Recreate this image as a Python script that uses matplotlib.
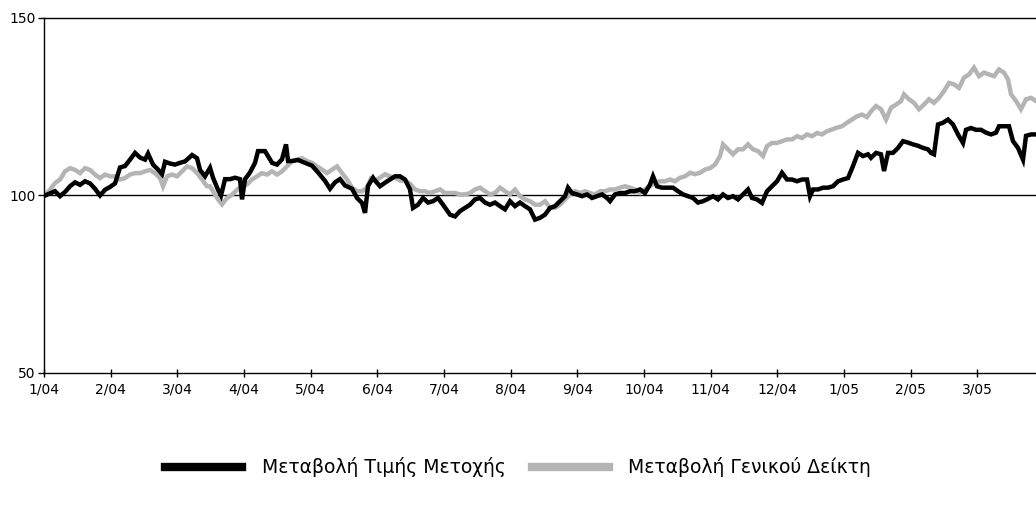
import numpy as np
import matplotlib
matplotlib.use('Agg')
import matplotlib.pyplot as plt

# x positions are months since 1/04 (fractional), values indexed to 100
stock_months = [0.015, 0.165, 0.24, 0.315, 0.39, 0.465, 0.54, 0.615, 0.69, 0.765,
	0.84, 0.915, 0.99, 1.065, 1.14, 1.215, 1.29, 1.365, 1.44, 1.515,
	1.56, 1.635, 1.71, 1.77, 1.815, 1.89, 1.965, 2.04, 2.115, 2.22,
	2.295, 2.34, 2.415, 2.49, 2.535, 2.61, 2.655, 2.715, 2.79, 2.865,
	2.94, 2.97, 3.015, 3.09, 3.165, 3.21, 3.315, 3.42, 3.495, 3.57,
	3.63, 3.66, 3.72, 3.81, 3.915, 4.02, 4.11, 4.215, 4.29, 4.365,
	4.44, 4.515, 4.62, 4.695, 4.77, 4.815, 4.86, 4.935, 4.965, 5.04,
	5.115, 5.19, 5.265, 5.34, 5.415, 5.49, 5.535, 5.61, 5.685, 5.76,
	5.835, 5.91, 5.985, 6.09, 6.165, 6.24, 6.315, 6.39, 6.465, 6.54,
	6.615, 6.69, 6.765, 6.84, 6.915, 6.99, 7.065, 7.14, 7.215, 7.29,
	7.365, 7.44, 7.515, 7.59, 7.665, 7.74, 7.815, 7.86, 7.92, 7.995,
	8.07, 8.145, 8.22, 8.295, 8.37, 8.445, 8.49, 8.565, 8.64, 8.715,
	8.79, 8.865, 8.94, 9.015, 9.09, 9.135, 9.195, 9.27, 9.36, 9.435,
	9.51, 9.585, 9.66, 9.735, 9.81, 9.885, 9.945, 10.035, 10.11, 10.185,
	10.26, 10.335, 10.41, 10.485, 10.56, 10.62, 10.695, 10.77, 10.845, 10.92,
	10.995, 11.07, 11.145, 11.22, 11.295, 11.37, 11.445, 11.49, 11.535, 11.61,
	11.685, 11.76, 11.835, 11.91, 11.985, 12.06, 12.135, 12.21, 12.285, 12.36,
	12.405, 12.48, 12.555, 12.6, 12.66, 12.735, 12.81, 12.885, 12.96, 13.035,
	13.11, 13.185, 13.26, 13.305, 13.35, 13.41, 13.485, 13.56, 13.635, 13.71,
	13.785, 13.83, 13.905, 13.98, 14.055, 14.13, 14.205, 14.28, 14.325, 14.4,
	14.475, 14.535, 14.61, 14.685, 14.73, 14.805, 14.88]
stock_values = [100, 101.2, 99.8, 101, 102.6, 103.7, 103, 104, 103.4, 101.9,
	100, 101.6, 102.4, 103.4, 107.9, 108.3, 110.1, 112, 110.7, 110.1,
	111.8, 108.7, 107.3, 106, 109.5, 109, 108.7, 109.2, 109.6, 111.4,
	110.5, 107.2, 105.4, 107.8, 105, 101.6, 100, 104.6, 104.6, 105,
	104.6, 98.9, 104.6, 106.5, 109.2, 112.5, 112.5, 109.2, 108.7, 110.2,
	114.4, 109.7, 109.7, 110, 109.2, 108.4, 106.5, 104.1, 101.9, 103.7,
	104.6, 102.8, 101.9, 99.3, 97.9, 95.1, 102.7, 105, 104.2, 102.6,
	103.6, 104.5, 105.4, 105.4, 104.5, 101.7, 96.5, 97.4, 99.3, 98,
	98.4, 99.3, 97.4, 94.6, 94.1, 95.6, 96.5, 97.4, 98.9, 99.3,
	98, 97.4, 98, 97, 96.1, 98.4, 97, 98, 97, 96.1,
	93.2, 93.7, 94.6, 96.5, 97, 98.4, 99.8, 102.2, 100.7, 100.3,
	99.8, 100.3, 99.3, 99.8, 100.3, 99.3, 98.4, 100.3, 100.7, 100.7,
	101.2, 101.2, 101.7, 100.7, 103.1, 105.4, 102.6, 102.2, 102.2, 102.2,
	101.2, 100.3, 99.8, 99.3, 98, 98.4, 98.9, 99.8, 98.9, 100.3,
	99.3, 99.8, 98.9, 100.3, 101.7, 99.3, 98.9, 97.9, 101.2, 102.6,
	104, 106.4, 104.5, 104.5, 104, 104.5, 104.5, 99.8, 101.7, 101.7,
	102.2, 102.2, 102.6, 104, 104.5, 104.9, 108.3, 112, 111.1, 111.6,
	110.6, 112, 111.6, 106.9, 112, 112, 113.4, 115.3, 114.9, 114.4,
	114, 113.4, 113, 112, 111.6, 120, 120.5, 121.4, 120, 117.2,
	114.8, 118.5, 119, 118.5, 118.5, 117.7, 117.2, 117.7, 119.5, 119.5,
	119.5, 115.3, 113.4, 110.1, 116.8, 117.2, 117.2]

index_months = [0.015, 0.09, 0.165, 0.24, 0.315, 0.39, 0.465, 0.54, 0.615, 0.69,
	0.765, 0.84, 0.915, 0.99, 1.065, 1.14, 1.215, 1.29, 1.365, 1.44,
	1.515, 1.59, 1.665, 1.74, 1.785, 1.845, 1.92, 1.995, 2.07, 2.145,
	2.22, 2.295, 2.37, 2.445, 2.49, 2.535, 2.61, 2.67, 2.745, 2.82,
	2.895, 2.97, 3.045, 3.12, 3.195, 3.27, 3.345, 3.42, 3.495, 3.57,
	3.645, 3.72, 3.795, 3.87, 3.945, 4.02, 4.095, 4.17, 4.245, 4.32,
	4.395, 4.47, 4.545, 4.62, 4.695, 4.77, 4.845, 4.905, 4.965, 5.04,
	5.115, 5.19, 5.265, 5.34, 5.415, 5.49, 5.565, 5.64, 5.715, 5.79,
	5.865, 5.94, 6.015, 6.09, 6.165, 6.24, 6.315, 6.39, 6.465, 6.54,
	6.615, 6.69, 6.765, 6.84, 6.915, 6.99, 7.065, 7.14, 7.215, 7.29,
	7.365, 7.44, 7.515, 7.59, 7.665, 7.74, 7.815, 7.89, 7.965, 8.04,
	8.115, 8.19, 8.265, 8.34, 8.415, 8.49, 8.565, 8.64, 8.715, 8.79,
	8.865, 8.94, 9.015, 9.09, 9.165, 9.24, 9.315, 9.39, 9.465, 9.54,
	9.615, 9.69, 9.765, 9.84, 9.915, 9.99, 10.065, 10.14, 10.185, 10.26,
	10.335, 10.41, 10.485, 10.56, 10.635, 10.71, 10.785, 10.845, 10.92, 10.995,
	11.07, 11.145, 11.22, 11.295, 11.37, 11.445, 11.52, 11.595, 11.67, 11.745,
	11.82, 11.895, 11.97, 12.045, 12.12, 12.195, 12.27, 12.345, 12.405, 12.48,
	12.555, 12.63, 12.705, 12.78, 12.855, 12.9, 12.975, 13.05, 13.125, 13.2,
	13.275, 13.35, 13.425, 13.5, 13.575, 13.65, 13.725, 13.8, 13.875, 13.95,
	14.025, 14.1, 14.175, 14.25, 14.325, 14.4, 14.46, 14.505, 14.58, 14.655,
	14.73, 14.805, 14.88]
index_values = [100, 101.6, 103.5, 104.5, 106.8, 107.7, 107.2, 106.3, 107.7, 107.2,
	105.9, 104.9, 105.9, 105.4, 105.4, 104.5, 104.9, 105.9, 106.3, 106.3,
	106.8, 107.2, 106.3, 104.9, 102.6, 105.4, 105.9, 105.4, 106.8, 108.2,
	107.7, 106.3, 104.5, 102.6, 102.6, 101.2, 98.9, 97.5, 99.3, 100.2,
	101.6, 102.6, 103.1, 104.5, 105.4, 106.3, 105.9, 106.8, 105.9, 106.8,
	108.2, 109.7, 110.1, 110.5, 109.7, 109.2, 108.2, 107.3, 106.3, 107.3,
	108.2, 106.3, 104.5, 102.2, 101.2, 101.2, 102.2, 104.8, 104.2, 105,
	106, 105.4, 105, 104.2, 104.2, 103.3, 101.7, 101.2, 101.2, 100.7,
	101.2, 101.7, 100.7, 100.7, 100.7, 100.3, 100.3, 100.7, 101.7, 102.2,
	101.2, 100.3, 100.7, 102.2, 101.2, 100.3, 101.7, 99.8, 98.9, 98.4,
	97.4, 97.4, 98.4, 96.5, 96.5, 97.4, 98.9, 100.3, 101.2, 100.7,
	101.2, 100.7, 100.3, 101.2, 101.2, 101.7, 101.7, 102.2, 102.6, 102.2,
	101.7, 100.7, 101.7, 102.6, 103.6, 104, 104, 104.5, 104, 105,
	105.4, 106.4, 106, 106.4, 107.3, 107.7, 108.7, 111.1, 114.4, 113,
	111.6, 113, 113, 114.4, 113, 112.5, 111.1, 113.9, 114.8, 114.8,
	115.3, 115.8, 115.8, 116.7, 116.2, 117.2, 116.7, 117.6, 117.2, 118.1,
	118.6, 119.1, 119.5, 120.5, 121.4, 122.3, 122.8, 122.1, 123.7, 125.2,
	124.3, 121.4, 124.7, 125.6, 126.6, 128.5, 127.1, 126.1, 124.3, 125.6,
	127.1, 126.1, 127.5, 129.4, 131.7, 131.3, 130.3, 133.2, 134.1, 136,
	133.6, 134.6, 134.1, 133.6, 135.5, 134.6, 132.7, 128.5, 126.6, 124.3,
	127.1, 127.5, 126.6]

month_labels = ['1/04', '2/04', '3/04', '4/04', '5/04', '6/04', '7/04', '8/04',
	'9/04', '10/04', '11/04', '12/04', '1/05', '2/05', '3/05']
y_ticks = [50, 100, 150]
stock_label = 'Μεταβολή Τιμής Μετοχής'
index_label = 'Μεταβολή Γενικού Δείκτη'

fig = plt.figure(figsize=(10.36, 5.05), dpi=100)
ax = fig.add_axes([0.0425, 0.2614, 0.9575, 0.703])

ax.axhline(100, color='black', linewidth=1.0, zorder=1)
ax.plot(stock_months, stock_values, color='black', linewidth=3.2, solid_joinstyle='miter', label=stock_label, zorder=3)
ax.plot(index_months, index_values, color='#b4b4b4', linewidth=3.2, solid_joinstyle='miter', label=index_label, zorder=2)

ax.set_xlim(0, 14.88)
ax.set_ylim(50, 150)
ax.set_yticks(y_ticks)
ax.set_xticks(np.arange(len(month_labels)))
ax.set_xticklabels(month_labels)

ax.spines['right'].set_visible(False)
for s in ['top', 'left', 'bottom']:
	ax.spines[s].set_linewidth(1.0)
ax.tick_params(axis='x', direction='inout', length=6, width=1, labelsize=10, pad=4)
ax.tick_params(axis='y', direction='out', length=4, width=1, labelsize=10, pad=2)

fig.legend(loc='center', bbox_to_anchor=(0.5, 0.075), ncol=2, frameon=False,
	fontsize=13.5, handlelength=4.1, handletextpad=1.05, columnspacing=1.4)
for line in fig.legends[0].get_lines():
	line.set_linewidth(6)

fig.savefig('out.png', dpi=100)
